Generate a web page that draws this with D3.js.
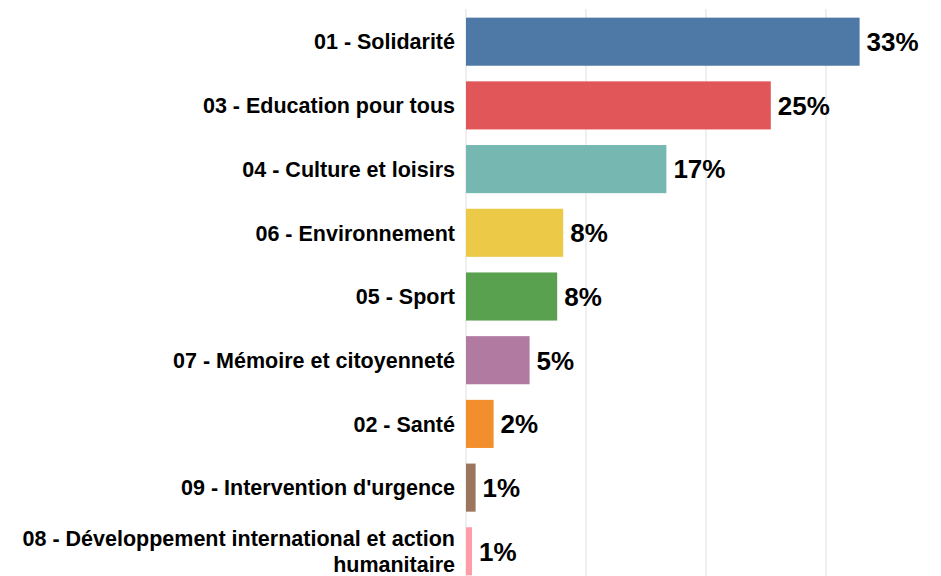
<!DOCTYPE html>
<html>
<head>
<meta charset="utf-8">
<script src="https://cdn.jsdelivr.net/npm/d3@7"></script>
<style>
  body { margin: 0; background: #fff; }
  text { font-family: "Liberation Sans", Arial, sans-serif; font-weight: bold; fill: #000; }
</style>
</head>
<body>
<script>
// categories, shares (%) and colours, top to bottom
var categories = [
  "01 - Solidarité",
  "03 - Education pour tous",
  "04 - Culture et loisirs",
  "06 - Environnement",
  "05 - Sport",
  "07 - Mémoire et citoyenneté",
  "02 - Santé",
  "09 - Intervention d'urgence",
  "08 - Développement international et action humanitaire"
];
var values = [32.8, 25.4, 16.7, 8.1, 7.6, 5.3, 2.3, 0.8, 0.5];
var colors = ["#4e79a7", "#e15759", "#76b7b2", "#edc948", "#59a14f",
              "#b07aa1", "#f28e2b", "#9c755f", "#ff9da7"];
var gridTicks = [0, 10, 20, 30];

var width = 941, height = 576;

var svg = d3.select("body").append("svg")
    .attr("width", width)
    .attr("height", height);

var x = d3.scaleLinear().domain([0, 35]).range([466, 886]);
var y = d3.scaleBand().domain(categories).range([10, 583])
    .paddingInner(0.245).paddingOuter(0.12);

// light vertical grid
svg.selectAll("line.grid")
    .data(gridTicks)
    .enter().append("line")
    .attr("class", "grid")
    .attr("x1", function(d) { return x(d); })
    .attr("x2", function(d) { return x(d); })
    .attr("y1", 9)
    .attr("y2", height)
    .attr("stroke", "#efefef")
    .attr("stroke-width", 2);

var rows = categories.map(function(c, i) { return {cat: c, v: values[i], col: colors[i]}; });

svg.selectAll("rect.bar")
    .data(rows)
    .enter().append("rect")
    .attr("class", "bar")
    .attr("x", x(0))
    .attr("y", function(d) { return y(d.cat); })
    .attr("width", function(d) { return x(d.v) - x(0); })
    .attr("height", y.bandwidth())
    .attr("fill", function(d) { return d.col; });

// value labels
svg.selectAll("text.val")
    .data(rows)
    .enter().append("text")
    .attr("class", "val")
    .attr("x", function(d) { return x(d.v) + 7; })
    .attr("y", function(d) { return y(d.cat) + y.bandwidth() / 2; })
    .attr("dy", "0.36em")
    .style("font-size", "26px")
    .text(function(d) { return Math.round(d.v) + "%"; });

// category labels, wrapped when too long
var labelSize = 21.5, lineH = 25.6, maxW = 445;
var labels = svg.selectAll("text.cat")
    .data(rows)
    .enter().append("text")
    .attr("class", "cat")
    .attr("text-anchor", "end")
    .style("font-size", labelSize + "px");

labels.each(function(d) {
  var t = d3.select(this);
  var words = d.cat.split(" ");
  var lines = [], cur = [];
  var probe = t.append("tspan");
  words.forEach(function(w) {
    cur.push(w);
    probe.text(cur.join(" "));
    if (probe.node().getComputedTextLength() > maxW && cur.length > 1) {
      cur.pop();
      lines.push(cur.join(" "));
      cur = [w];
    }
  });
  lines.push(cur.join(" "));
  probe.remove();
  var cy = y(d.cat) + y.bandwidth() / 2;
  var y0 = cy - (lines.length - 1) * lineH / 2;
  lines.forEach(function(l, i) {
    t.append("tspan")
      .attr("x", 455)
      .attr("y", y0 + i * lineH)
      .attr("dy", "0.36em")
      .text(l);
  });
});
</script>
</body>
</html>
